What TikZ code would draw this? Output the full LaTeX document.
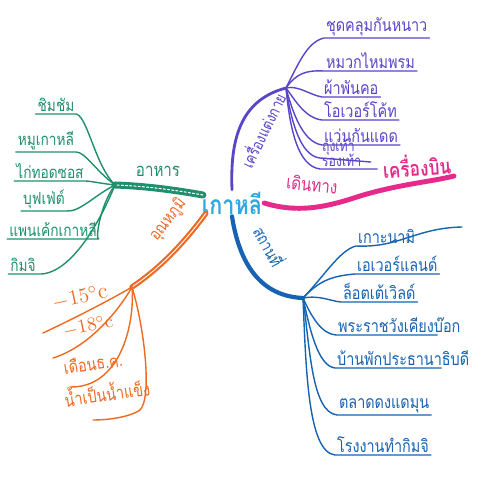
\documentclass[tikz,border=0pt]{standalone}
\usepackage{fontspec}
\newfontfamily\thaifont[Script=Thai]{Loma}
\newfontfamily\thainarrow[Script=Thai,FakeStretch=0.82]{Loma}
\usetikzlibrary{calc}
\definecolor{mapcore}{HTML}{35A7DE}
\definecolor{mapcloth}{HTML}{5A44C8}
\definecolor{maptrip}{HTML}{E62A8C}
\definecolor{mapplace}{HTML}{1763B3}
\definecolor{mapfood}{HTML}{1F8F6C}
\definecolor{maptemp}{HTML}{EE6A22}

\begin{document}
\begin{tikzpicture}[x=0.02cm,y=-0.02cm,line cap=round,line join=round,
  font=\thaifont,
  item/.style={inner sep=1pt,font=\thainarrow\fontsize{10}{10}\selectfont},
  topic/.style={inner sep=1pt,font=\thainarrow\fontsize{9.5}{10}\selectfont},
  twig/.style={line width=0.8pt},
  cloth/.style={text=mapcloth,color=mapcloth},
  trip/.style={text=maptrip,color=maptrip},
  place/.style={text=mapplace,color=mapplace},
  food/.style={text=mapfood,color=mapfood},
  temp/.style={text=maptemp,color=maptemp}]
\path[use as bounding box] (0,0) rectangle (500,480);
\fill[white] (0,0) rectangle (500,480);
% ศูนย์กลาง
\node[text=mapcore,inner sep=1pt,font=\thainarrow\bfseries\fontsize{15}{15}\selectfont] (korea) at (232,203) {เกาหลี};
% เครื่องแต่งกาย
\coordinate (cloth hub) at (286,88);
\draw[cloth,line width=1.6pt] (korea.north) .. controls (230,140) and (240,100) .. (cloth hub);
\node[cloth,topic,font=\thainarrow\fontsize{9}{10}\selectfont,rotate=64] at (262,130) {เครื่องแต่งกาย};
\node[cloth,item,anchor=south west] (coat) at (324,38) {ชุดคลุมกันหนาว};
\node[cloth,item,anchor=south west] (hat) at (324,71) {หมวกไหมพรม};
\node[cloth,item,anchor=south west] (scarf) at (322,97) {ผ้าพันคอ};
\node[cloth,item,anchor=south west] (overcoat) at (322,120) {โอเวอร์โค้ท};
\node[cloth,item,anchor=south west] (glasses) at (322,145) {แว่นกันแดด};
\node[cloth,item,anchor=south west,font=\thainarrow\fontsize{8.5}{8.5}\selectfont] (socks) at (320,158) {ถุงเท้า};
\node[cloth,item,anchor=south west,font=\thainarrow\fontsize{8.5}{8.5}\selectfont] (shoes) at (320,169) {รองเท้า};
\draw[cloth,twig] (cloth hub) .. controls (300,60) and (308,42) .. (coat.south west) -- (coat.south east);
\draw[cloth,twig] (cloth hub) .. controls (296,74) and (305,70) .. (hat.south west) -- (hat.south east);
\draw[cloth,twig] (cloth hub) .. controls (298,85) and (310,95) .. (scarf.south west) -- (scarf.south east);
\draw[cloth,twig] (cloth hub) .. controls (295,100) and (305,118) .. (overcoat.south west) -- (overcoat.south east);
\draw[cloth,twig] (cloth hub) .. controls (292,110) and (302,142) .. (glasses.south west) -- (glasses.south east);
\draw[cloth,twig] (cloth hub) .. controls (291,120) and (300,156) .. (socks.south west) -- ($(socks.south east)+(14,4)$);
\draw[cloth,twig] (cloth hub) .. controls (290,130) and (298,166) .. (shoes.south west) -- ($(shoes.south east)+(14,0)$);
% เดินทาง
\node[trip,inner sep=1pt,font=\thainarrow\bfseries\fontsize{12}{12}\selectfont,anchor=south east,rotate=4] (plane) at (454,176) {เครื่องบิน};
\draw[trip,line width=2.8pt] (korea.east) .. controls (300,214) and (330,206) .. (360,196) .. controls (400,184) and (430,182) .. (plane.south east);
\node[trip,topic,font=\thainarrow\fontsize{10.5}{10}\selectfont,rotate=-6] at (312,184) {เดินทาง};
% สถานที่
\coordinate (place hub) at (303,298);
\draw[place,line width=2.4pt] (korea.south) .. controls (238,255) and (255,296) .. (place hub);
\node[place,topic,rotate=-62] at (270,246) {สถานที่};
\node[place,item,anchor=south west] (nami) at (356,246) {เกาะนามิ};
\node[place,item,anchor=south west] (everland) at (355,274) {เอเวอร์แลนด์};
\node[place,item,anchor=south west] (lotte) at (341,302) {ล็อตเต้เวิลด์};
\node[place,item,anchor=south west] (palace) at (336,335) {พระราชวังเคียงบ๊อก};
\node[place,item,anchor=south west] (blue house) at (335,368) {บ้านพักประธานาธิบดี};
\node[place,item,anchor=south west] (market) at (337,415) {ตลาดดงแดมุน};
\node[place,item,anchor=south west] (kimchi works) at (335,455) {โรงงานทำกิมจิ};
\coordinate (nami tail) at (462,227);
\draw[place,twig] (place hub) .. controls (325,275) and (340,250) .. (nami.south west) .. controls (400,248) and (415,228) .. (nami tail);
\draw[place,twig] (place hub) .. controls (318,282) and (330,276) .. (everland.south west) -- (everland.south east);
\draw[place,twig] (place hub) .. controls (320,295) and (330,301) .. (lotte.south west) -- (lotte.south east);
\draw[place,twig] (place hub) .. controls (312,318) and (322,334) .. (palace.south west) -- ($(palace.south west)!.8!(palace.south east)$);
\draw[place,twig] (place hub) .. controls (310,330) and (318,366) .. (blue house.south west) -- ($(blue house.south west)!.78!(blue house.south east)$);
\draw[place,twig] (place hub) .. controls (310,350) and (312,412) .. (market.south west) -- (market.south east);
\draw[place,twig] (place hub) .. controls (306,370) and (308,452) .. (kimchi works.south west) -- (kimchi works.south east);
% อาหาร
\coordinate (food hub) at (115,185);
\draw[food,line width=4pt] ($(korea.west)+(3,-8)$) .. controls (175,190) and (145,186) .. (food hub);
\draw[white,line width=0.6pt,dash pattern=on 1.2pt off 1.2pt] ($(korea.west)+(3,-8)$) .. controls (175,190) and (145,186) .. (food hub);
\node[food,topic,font=\thainarrow\fontsize{10.5}{10}\selectfont] at (158,171) {อาหาร};
\node[food,item,anchor=south,font=\thainarrow\fontsize{9.5}{10}\selectfont] (jimjim) at (56,114) {ชิมชัม};
\node[food,item,anchor=south,font=\thainarrow\fontsize{9.5}{10}\selectfont] (pork) at (46,152) {หมูเกาหลี};
\node[food,item,anchor=south,font=\thainarrow\fontsize{9.5}{10}\selectfont] (chicken) at (50,181) {ไก่ทอดซอส};
\node[food,item,anchor=south,font=\thainarrow\fontsize{9.5}{10}\selectfont] (buffet) at (44,211) {บุฟเฟ่ต์};
\node[food,item,anchor=south,font=\thainarrow\fontsize{9.5}{10}\selectfont] (pancake) at (53,239) {แพนเค้กเกาหลี};
\node[food,item,anchor=south,font=\thainarrow\fontsize{9.5}{10}\selectfont] (kimchi) at (23,274) {กิมจิ};
\draw[food,twig] (food hub) .. controls (95,165) and (88,118) .. (jimjim.south east) -- (jimjim.south west);
\draw[food,twig] (food hub) .. controls (95,170) and (85,152) .. (pork.south east) -- (pork.south west);
\draw[food,twig] (food hub) .. controls (98,183) and (90,181) .. (chicken.south east) -- (chicken.south west);
\draw[food,twig] (food hub) .. controls (95,195) and (80,212) .. (buffet.south east) -- (buffet.south west);
\draw[food,twig] (food hub) .. controls (100,205) and (95,240) .. (pancake.south east) -- (pancake.south west);
\draw[food,twig] (food hub) .. controls (100,222) and (70,276) .. (kimchi.south east) -- (kimchi.south west);
% อุณหภูมิ
\coordinate (temp hub) at (132,287);
\draw[temp,line width=3pt] ($(korea.south west)+(6,-3)$) .. controls (190,235) and (165,265) .. (temp hub);
\draw[white,line width=0.5pt] ($(korea.south west)+(6,-3)$) .. controls (190,235) and (165,265) .. (temp hub);
\node[temp,topic,rotate=52] at (168,220) {อุณหภูมิ};
\node[temp,inner sep=1pt,font=\fontsize{13}{13}\selectfont,rotate=12] (minus15) at (80,297) {$-15^{\circ}$c};
\node[temp,inner sep=1pt,font=\fontsize{11}{11}\selectfont,rotate=12] (minus18) at (88,326) {$-18^{\circ}$c};
\node[temp,item,rotate=8] (december) at (93,363) {เดือนธ.ค.};
\node[temp,item,rotate=8] (ice) at (107,392) {น้ำเป็นน้ำแข็ง};
\coordinate (minus15 tail) at (43,333);
\coordinate (minus18 tail) at (53,358);
\coordinate (december tail) at (70,387);
\coordinate (ice tail) at (93,420);
\draw[temp,twig] (temp hub) .. controls (110,300) and (75,318) .. (minus15 tail);
\draw[temp,twig] (temp hub) .. controls (125,300) and (95,345) .. (minus18 tail);
\draw[temp,twig] (temp hub) .. controls (135,325) and (120,388) .. (december tail);
\draw[temp,twig] (temp hub) .. controls (145,330) and (152,398) .. (140,410) .. controls (128,418) and (105,420) .. (ice tail);
\end{tikzpicture}
\end{document}
